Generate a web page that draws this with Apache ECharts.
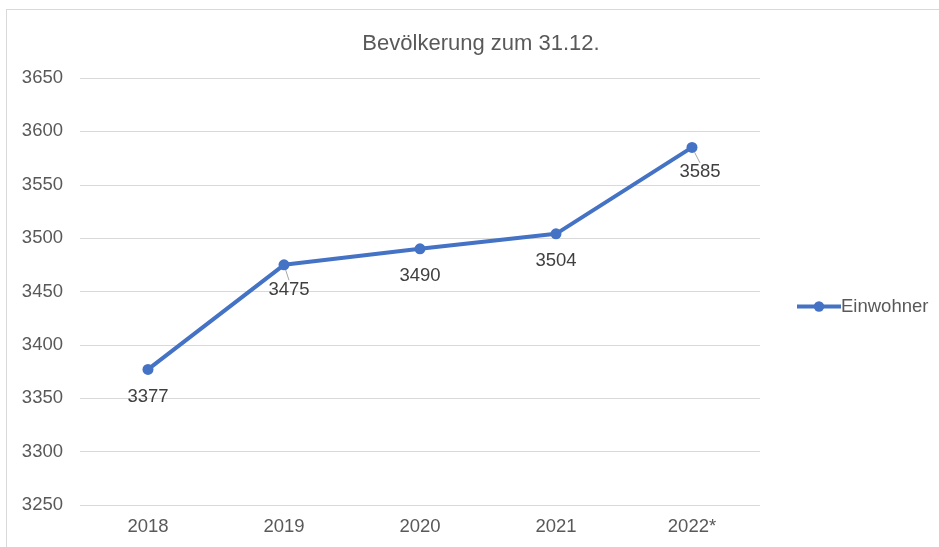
<!DOCTYPE html>
<html>
<head>
<meta charset="utf-8">
<script src="https://cdn.jsdelivr.net/npm/echarts@6/dist/echarts.min.js"></script>
<style>
  html, body { margin: 0; padding: 0; background: #fff; }
  #main { width: 939px; height: 547px; }
  #frame { position: absolute; left: 6px; top: 9px; width: 960px; height: 560px; border: 1px solid #d9d9d9; box-sizing: border-box; pointer-events: none; }
</style>
</head>
<body>
<div id="main"></div>
<div id="frame"></div>
<script>
// Daten
var years = ['2018', '2019', '2020', '2021', '2022*'];
var einwohner = [3377, 3475, 3490, 3504, 3585];
var yTicks = { min: 3250, max: 3650, step: 50 };
// Beschriftungen mit Führungslinie (leicht nach rechts versetzt)
var shiftedLabels = { 1: 5, 4: 8 };

var myChart = echarts.init(document.getElementById('main'));

var seriesData = einwohner.map(function (v, i) {
  return { value: v, labelLine: { show: shiftedLabels[i] !== undefined } };
});

var option = {
  animation: false,
  textStyle: { fontFamily: 'Liberation Sans, Arial, sans-serif' },
  title: {
    text: 'Bevölkerung zum 31.12.',
    left: 476,
    top: 28,
    textAlign: 'center',
    textStyle: { fontSize: 22, fontWeight: 'normal', color: '#595959', fontFamily: 'Liberation Sans, Arial, sans-serif' }
  },
  legend: {
    data: ['Einwohner'],
    orient: 'vertical',
    left: 790,
    top: 292,
    itemWidth: 44,
    itemHeight: 13,
    itemGap: 5,
    lineStyle: { width: 4, color: '#4472C4' },
    itemStyle: { color: '#4472C4' },
    textStyle: { fontSize: 18.5, color: '#595959', padding: [0, 0, 0, -5] }
  },
  grid: { left: 80, right: 179, top: 78, bottom: 42 },
  xAxis: {
    type: 'category',
    data: years,
    boundaryGap: true,
    axisLine: { show: false },
    axisTick: { show: false },
    axisLabel: { fontSize: 18.5, color: '#595959', margin: 12 }
  },
  yAxis: {
    type: 'value',
    min: yTicks.min,
    max: yTicks.max,
    interval: yTicks.step,
    axisLine: { show: false },
    axisTick: { show: false },
    axisLabel: { fontSize: 18.5, color: '#595959', margin: 17, formatter: function (v) { return String(v); } },
    splitLine: { lineStyle: { color: '#d9d9d9', width: 1 } }
  },
  series: [{
    name: 'Einwohner',
    type: 'line',
    data: seriesData,
    symbol: 'circle',
    symbolSize: 11,
    lineStyle: { color: '#4472C4', width: 4 },
    itemStyle: { color: '#4472C4' },
    label: {
      show: true,
      position: 'bottom',
      distance: 12,
      fontSize: 18.5,
      color: '#404040'
    },
    labelLine: { show: false, lineStyle: { color: '#a6a6a6', width: 1 } },
    labelLayout: function (params) {
      var dx = shiftedLabels[params.dataIndex];
      if (dx !== undefined) return { dx: dx, dy: -2 };
      return {};
    }
  }]
};

myChart.setOption(option);
</script>
</body>
</html>
